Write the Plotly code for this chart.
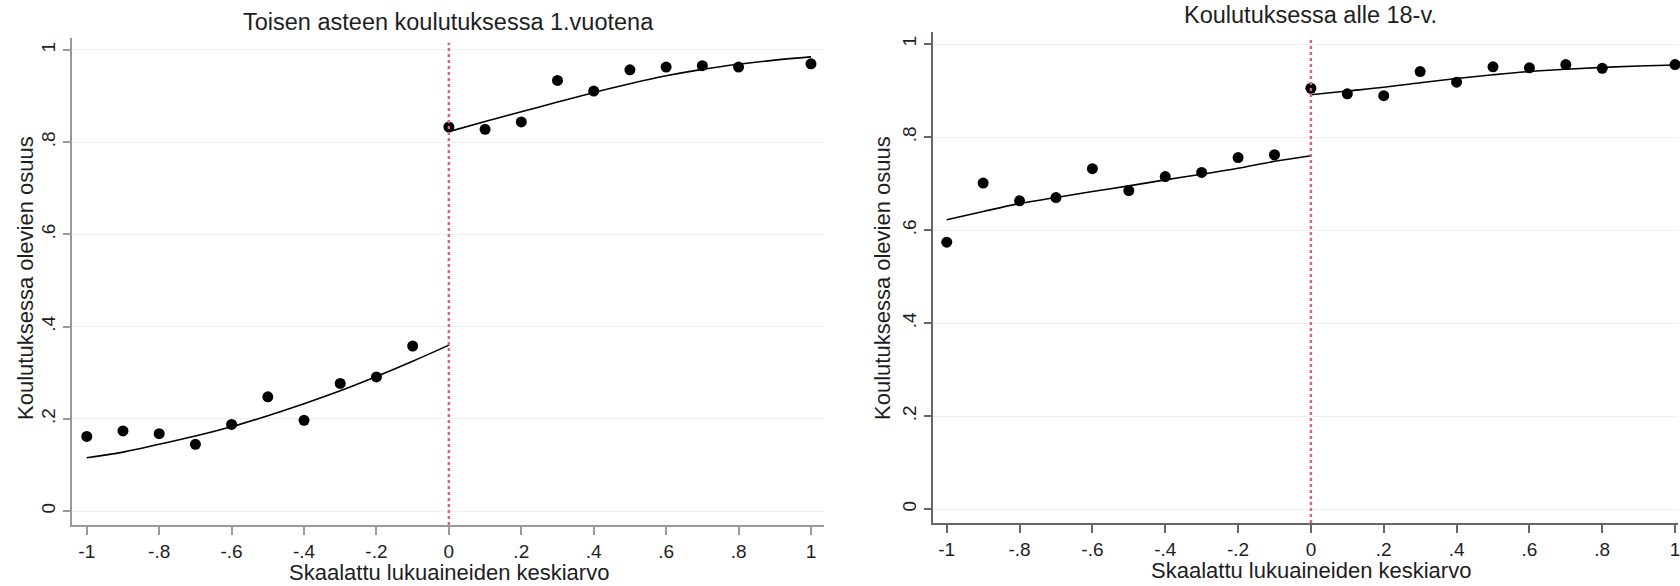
import plotly.graph_objects as go

# ---- data ----
x_left = [-1, -0.9, -0.8, -0.7, -0.6, -0.5, -0.4, -0.3, -0.2, -0.1]
x_right = [0, 0.1, 0.2, 0.3, 0.4, 0.5, 0.6, 0.7, 0.8, 1.0]
fit_x_left = [-1, -0.9, -0.8, -0.7, -0.6, -0.5, -0.4, -0.3, -0.2, -0.1, 0]
fit_x_right = [0, 0.1, 0.2, 0.3, 0.4, 0.5, 0.6, 0.7, 0.8, 0.9, 1.0]

# Panel 1: Toisen asteen koulutuksessa 1.vuotena
p1_dots_left = [0.162, 0.174, 0.168, 0.145, 0.188, 0.248, 0.197, 0.277, 0.291, 0.358]
p1_dots_right = [0.833, 0.828, 0.844, 0.934, 0.911, 0.957, 0.963, 0.966, 0.963, 0.970]
p1_fit_left = [0.116, 0.128, 0.145, 0.163, 0.183, 0.207, 0.233, 0.261, 0.292, 0.325, 0.360]
p1_fit_right = [0.823, 0.845, 0.866, 0.887, 0.908, 0.927, 0.944, 0.958, 0.969, 0.978, 0.985]

# Panel 2: Koulutuksessa alle 18-v.
p2_dots_left = [0.574, 0.701, 0.663, 0.670, 0.732, 0.685, 0.715, 0.724, 0.756, 0.762]
p2_dots_right = [0.905, 0.893, 0.889, 0.941, 0.918, 0.951, 0.949, 0.956, 0.948, 0.956]
p2_fit_left = [0.622, 0.640, 0.657, 0.670, 0.683, 0.695, 0.708, 0.720, 0.733, 0.748, 0.760]
p2_fit_right = [0.891, 0.899, 0.907, 0.917, 0.926, 0.934, 0.941, 0.946, 0.950, 0.953, 0.955]

titles = ["Toisen asteen koulutuksessa 1.vuotena", "Koulutuksessa alle 18-v."]
x_title = "Skaalattu lukuaineiden keskiarvo"
y_title = "Koulutuksessa olevien osuus"

x_tickvals = [-1, -0.8, -0.6, -0.4, -0.2, 0, 0.2, 0.4, 0.6, 0.8, 1]
x_ticktext = ["-1", "-.8", "-.6", "-.4", "-.2", "0", ".2", ".4", ".6", ".8", "1"]
y_tickvals = [0, 0.2, 0.4, 0.6, 0.8, 1]
y_ticktext = ["0", ".2", ".4", ".6", ".8", "1"]

W, H = 1680, 586
FONT = "Liberation Sans, Arial, sans-serif"
TXT = "#1e1e1e"

fig = go.Figure()

panels = [
    ("x", "y", p1_dots_left, p1_dots_right, p1_fit_left, p1_fit_right),
    ("x2", "y2", p2_dots_left, p2_dots_right, p2_fit_left, p2_fit_right),
]
for xa, ya, dl, dr, fl, fr in panels:
    for fx, fy in ((fit_x_left, fl), (fit_x_right, fr)):
        fig.add_trace(go.Scatter(x=fx, y=fy, mode="lines", xaxis=xa, yaxis=ya,
                                 line=dict(color="black", width=1.6, shape="spline"),
                                 showlegend=False, hoverinfo="skip"))
    for dx, dy in ((x_left, dl), (x_right, dr)):
        fig.add_trace(go.Scatter(x=dx, y=dy, mode="markers", xaxis=xa, yaxis=ya,
                                 marker=dict(color="black", size=11),
                                 cliponaxis=False, showlegend=False))

# vertical cut-off lines at 0
for xa, ya in (("x", "y"), ("x2", "y2")):
    fig.add_shape(type="line", xref=xa, yref=ya + " domain", x0=0, x1=0, y0=0, y1=0.99,
                  line=dict(color="#e0607f", width=2.5, dash="dot"))

def xaxis(domain, rng, anchor, lc):
    return dict(domain=domain, range=rng, anchor=anchor, tickmode="array",
                tickvals=x_tickvals, ticktext=x_ticktext, showgrid=False, zeroline=False,
                showline=True, linecolor=lc, linewidth=2, ticks="outside", ticklen=8,
                tickwidth=2, tickcolor=lc, ticklabelstandoff=0, ticklabeloverflow="allow",
                tickfont=dict(family=FONT, size=19, color=TXT))

def yaxis(domain, anchor, lc):
    return dict(domain=domain, range=[-0.03, 1.026], anchor=anchor, tickmode="array",
                tickvals=y_tickvals, ticktext=y_ticktext, showgrid=True,
                gridcolor="#eaf2f3", gridwidth=1, zeroline=False,
                showline=True, linecolor=lc, linewidth=2, ticks="outside", ticklen=7,
                tickwidth=2, tickcolor=lc, tickangle=-90, ticklabelstandoff=0,
                tickfont=dict(family=FONT, size=19, color=TXT))

fig.update_layout(
    width=W, height=H,
    margin=dict(l=0, r=0, t=0, b=0),
    paper_bgcolor="white", plot_bgcolor="white",
    xaxis=xaxis([72 / W, 825 / W], [-1.041, 1.036], "y", "#9a9a9a"),
    yaxis=yaxis([1 - 525 / H, 1 - 38 / H], "x", "#9a9a9a"),
    xaxis2=xaxis([934 / W, 1.0], [-1.038, 1.008], "y2", "#666666"),
    yaxis2=yaxis([1 - 523 / H, 1 - 32 / H], "x2", "#666666"),
)

ann = []
ann.append(dict(text=titles[0], xref="x", x=0, yref="paper", y=1 - 22 / H,
                showarrow=False, xanchor="center", yanchor="middle",
                font=dict(family=FONT, size=23.5, color=TXT)))
ann.append(dict(text=titles[1], xref="x2", x=0, yref="paper", y=1 - 15 / H,
                showarrow=False, xanchor="center", yanchor="middle",
                font=dict(family=FONT, size=23.5, color=TXT)))
for xa, yy in (("x", 572), ("x2", 570)):
    ann.append(dict(text=x_title, xref=xa, x=0, yref="paper", y=1 - yy / H,
                    showarrow=False, xanchor="center", yanchor="middle",
                    font=dict(family=FONT, size=22, color=TXT)))
for xp in (25, 883):
    ann.append(dict(text=y_title, xref="paper", x=xp / W, yref="paper", y=1 - 278 / H,
                    showarrow=False, xanchor="center", yanchor="middle", textangle=-90,
                    font=dict(family=FONT, size=22, color=TXT)))
fig.update_layout(annotations=ann)

fig.write_html("out.html", config={"displayModeBar": False},
               post_script="document.body.style.margin='0px';document.body.style.overflow='hidden';")
